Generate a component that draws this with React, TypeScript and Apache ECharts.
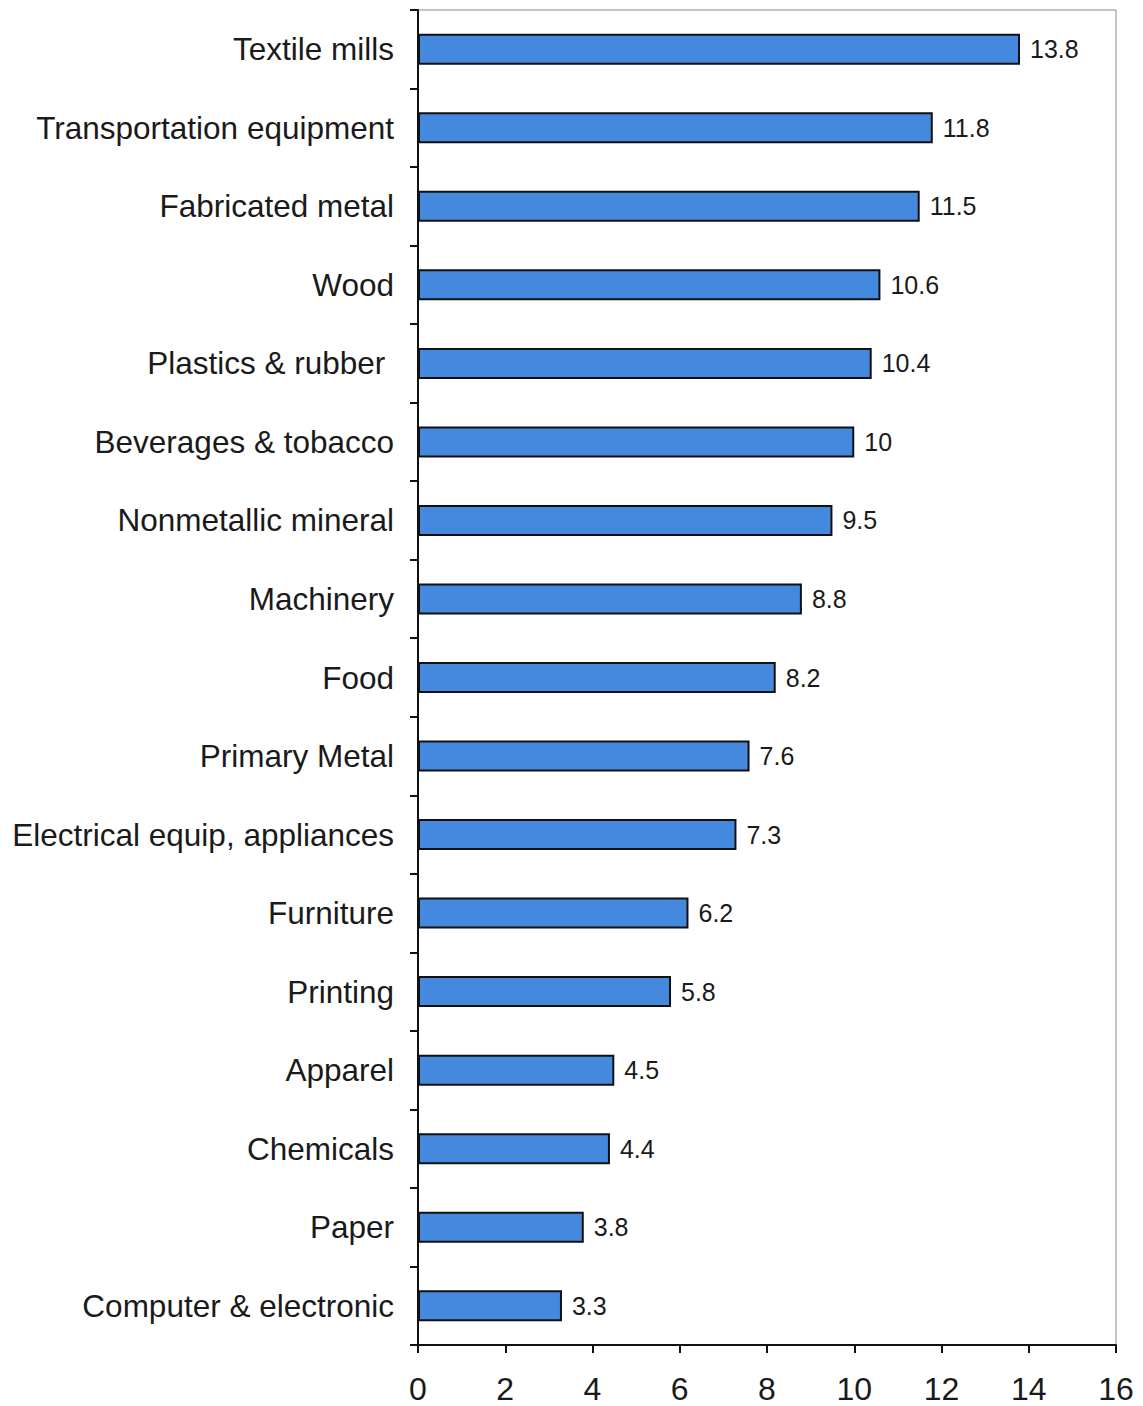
import React, { useEffect, useRef } from "react";
import * as echarts from "echarts";

const categories = [
  "Textile mills",
  "Transportation equipment",
  "Fabricated metal",
  "Wood",
  "Plastics & rubber ",
  "Beverages & tobacco",
  "Nonmetallic mineral",
  "Machinery",
  "Food",
  "Primary Metal",
  "Electrical equip, appliances",
  "Furniture",
  "Printing",
  "Apparel",
  "Chemicals",
  "Paper",
  "Computer & electronic",
];
const values = [13.8, 11.8, 11.5, 10.6, 10.4, 10, 9.5, 8.8, 8.2, 7.6, 7.3, 6.2, 5.8, 4.5, 4.4, 3.8, 3.3];
const xTicks = [0, 2, 4, 6, 8, 10, 12, 14, 16];

export default function App() {
  const ref = useRef<HTMLDivElement>(null);
  useEffect(() => {
    if (!ref.current) return;
    const chart = echarts.init(ref.current, null, { renderer: "svg" });
    const font = "Liberation Sans, Arial, sans-serif";
    chart.setOption({
      animation: false,
      backgroundColor: "#ffffff",
      grid: {
        left: 418,
        right: 27,
        top: 10,
        bottom: 61,
        show: true,
        borderColor: "#888888",
        borderWidth: 1,
        containLabel: false,
      },
      xAxis: {
        type: "value",
        min: xTicks[0],
        max: xTicks[xTicks.length - 1],
        interval: 2,
        axisLine: { show: true, lineStyle: { color: "#111", width: 2 } },
        axisTick: { show: true, length: 8, lineStyle: { color: "#111", width: 2 } },
        splitLine: { show: false },
        axisLabel: { fontSize: 32, color: "#1a1a1a", fontFamily: font, margin: 28 },
      },
      yAxis: {
        type: "category",
        inverse: true,
        data: categories,
        boundaryGap: true,
        axisLine: { show: true, lineStyle: { color: "#111", width: 2 } },
        axisTick: { show: true, length: 8, alignWithLabel: false, lineStyle: { color: "#111", width: 2 } },
        axisLabel: { fontSize: 31.5, color: "#1a1a1a", fontFamily: font, margin: 24 },
      },
      series: [
        {
          type: "bar",
          data: values,
          barWidth: 31,
          itemStyle: { color: "#4589de", borderColor: "#111", borderWidth: 2 },
          label: {
            show: true,
            position: "right",
            distance: 10,
            fontSize: 25,
            color: "#1a1a1a",
            fontFamily: font,
          },
        },
      ],
    });
    return () => chart.dispose();
  }, []);
  return (
    <div
      ref={ref}
      style={{ position: "absolute", left: 0, top: 0, width: 1143, height: 1406 }}
    />
  );
}
